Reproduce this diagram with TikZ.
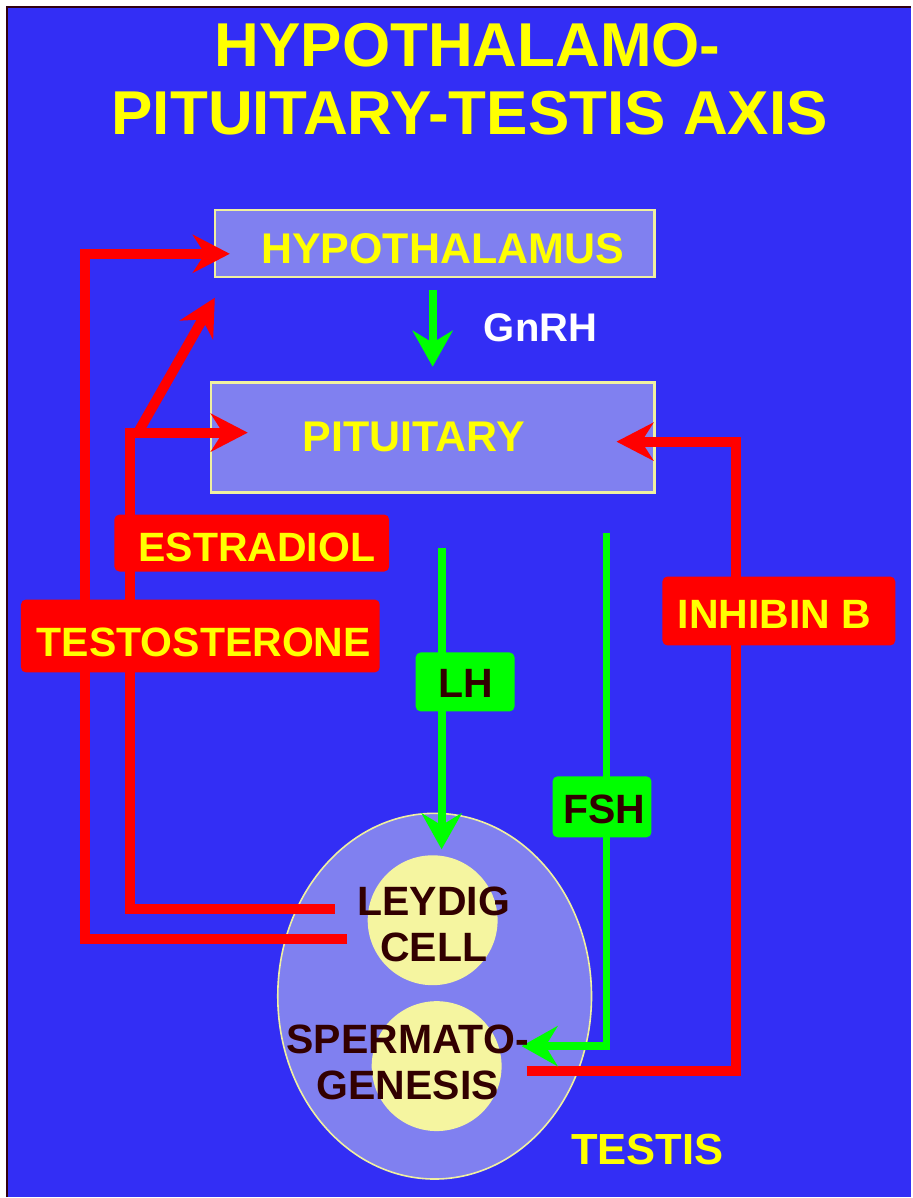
\documentclass[tikz,border=0pt]{standalone}
\usepackage{fontspec}
\setmainfont{Liberation Sans}
\usetikzlibrary{arrows.meta,shapes.geometric}
\definecolor{bgblue}{RGB}{51,46,245}
\definecolor{boxfill}{RGB}{128,128,240}
\definecolor{boxline}{RGB}{240,240,160}
\definecolor{hyellow}{RGB}{255,255,0}
\definecolor{hgreen}{RGB}{0,255,0}
\definecolor{hred}{RGB}{255,0,0}
\definecolor{cellfill}{RGB}{245,245,160}
\definecolor{darktext}{RGB}{50,0,0}
\definecolor{frameline}{RGB}{48,0,16}
\begin{document}
\begin{tikzpicture}[x=0.5pt,y=-0.5pt,
  organ/.style={draw=boxline, line width=1.2pt, fill=boxfill, inner sep=0},
  organtext/.style={text=hyellow, font=\bfseries\fontsize{21.5}{24}\selectfont, inner sep=0},
  redlabel/.style={fill=hred, rounded corners=2.5pt, inner sep=0},
  greenlabel/.style={fill=hgreen, rounded corners=2.5pt, inner sep=0},
  labtext/.style={font=\bfseries\fontsize{20.5}{22.5}\selectfont, inner sep=0},
  celltext/.style={text=darktext, align=center, font=\bfseries\fontsize{20.5}{23}\selectfont, inner sep=0},
  redline/.style={draw=hred, line width=5pt},
  greenline/.style={draw=hgreen, line width=4pt},
  redtip/.style={-{Stealth[length=18.5pt,width=19pt,inset=6pt]}},
  greentip/.style={-{Stealth[length=18pt,width=20pt,inset=6pt]}},
]
% background
\fill[white] (0,0) rectangle (912,1198);
\fill[bgblue] (7,7) rectangle (912,1198);
\draw[frameline, line width=1pt] (7,1198) -- (7,7) -- (912,7);
\useasboundingbox (0,0) rectangle (912,1198);

% title
\node[text=hyellow, font=\bfseries\fontsize{31}{34}\selectfont, inner sep=0] (title1) at (468,45) {HYPOTHALAMO-};
\node[text=hyellow, font=\bfseries\fontsize{31}{34}\selectfont, inner sep=0] (title2) at (470,113) {PITUITARY-TESTIS AXIS};

% organs
\node[organ, minimum width=220pt, minimum height=33.5pt] (hyp) at (435,243.5) {};
\node[organtext] (hyptext) at (443,249) {HYPOTHALAMUS};
\node[organ, minimum width=222pt, minimum height=55pt] (pit) at (433,438) {};
\node[organtext] (pittext) at (414,437) {PITUITARY};

\node[ellipse, draw=boxline, line width=0.8pt, fill=boxfill, minimum width=157pt, minimum height=183pt, inner sep=0] (testis) at (435,997) {};
\node[circle, fill=cellfill, minimum size=65pt, inner sep=0] (ley) at (433,921) {};
\node[circle, fill=cellfill, minimum size=65pt, inner sep=0] (sperm) at (437,1067) {};

% connector coordinates
\coordinate (tStart) at (347,940);
\coordinate (tC1) at (85,940);
\coordinate (tC2) at (85,254);
\coordinate (tEnd) at (230,254);
\coordinate (eStart) at (335,910);
\coordinate (eC1) at (130,910);
\coordinate (eC2) at (130,433);
\coordinate (eEnd) at (248,433);
\coordinate (eFork) at (138,433);
\coordinate (eEnd2) at (215,298);
\coordinate (iStart) at (527,1072);
\coordinate (iC1) at (737,1072);
\coordinate (iC2) at (737,442);
\coordinate (iEnd) at (617,442);
\coordinate (gnTop) at (433,290);
\coordinate (gnEnd) at (433,367);
\coordinate (lhTop) at (442,548);
\coordinate (lhEnd) at (442,850);
\coordinate (fsTop) at (607,533);
\coordinate (fsC) at (607,1047);
\coordinate (fsEnd) at (522,1047);

% red feedback lines
\draw[redline, redtip] (tStart) -- (tC1) -- (tC2) -- (tEnd);
\draw[redline, redtip] (eStart) -- (eC1) -- (eC2) -- (eEnd);
\draw[redline, redtip] (eFork) -- (eEnd2);
\draw[redline, redtip] (iStart) -- (iC1) -- (iC2) -- (iEnd);

% green lines
\draw[greenline, greentip] (gnTop) -- (gnEnd);
\draw[greenline, greentip] (lhTop) -- (lhEnd);
\draw[greenline, greentip] (fsTop) -- (fsC) -- (fsEnd);

% labels
\node[redlabel, minimum width=137.5pt, minimum height=28.5pt] (estr) at (252,543.5) {};
\node[labtext, text=hyellow] (estrtext) at (257,548) {ESTRADIOL};
\node[redlabel, minimum width=179.5pt, minimum height=36.5pt] (testo) at (200.5,636.5) {};
\node[labtext, text=hyellow] (testotext) at (204,643) {TESTOSTERONE};
\node[redlabel, minimum width=116.5pt, minimum height=34.5pt] (inh) at (779.5,611.5) {};
\node[labtext, text=hyellow] (inhtext) at (775,615) {INHIBIN B};
\node[greenlabel, minimum width=49.5pt, minimum height=29.5pt] (lh) at (465.5,682.5) {};
\node[labtext, text=darktext] (lhtext) at (466,684) {LH};
\node[greenlabel, minimum width=49.5pt, minimum height=30.5pt] (fsh) at (602.5,807.5) {};
\node[labtext, text=darktext] (fshtext) at (605,810) {FSH};

\node[text=white, font=\bfseries\fontsize{20}{22}\selectfont, inner sep=0] (gnrh) at (541,328) {GnRH};

\node[celltext] (leytext) at (434,925) {LEYDIG\\CELL};
\node[celltext] (spermtext) at (408,1063) {SPERMATO-\\GENESIS};
\node[text=hyellow, font=\bfseries\fontsize{21.8}{24}\selectfont, inner sep=0] (testistext) at (648,1150) {TESTIS};
\end{tikzpicture}
\end{document}
